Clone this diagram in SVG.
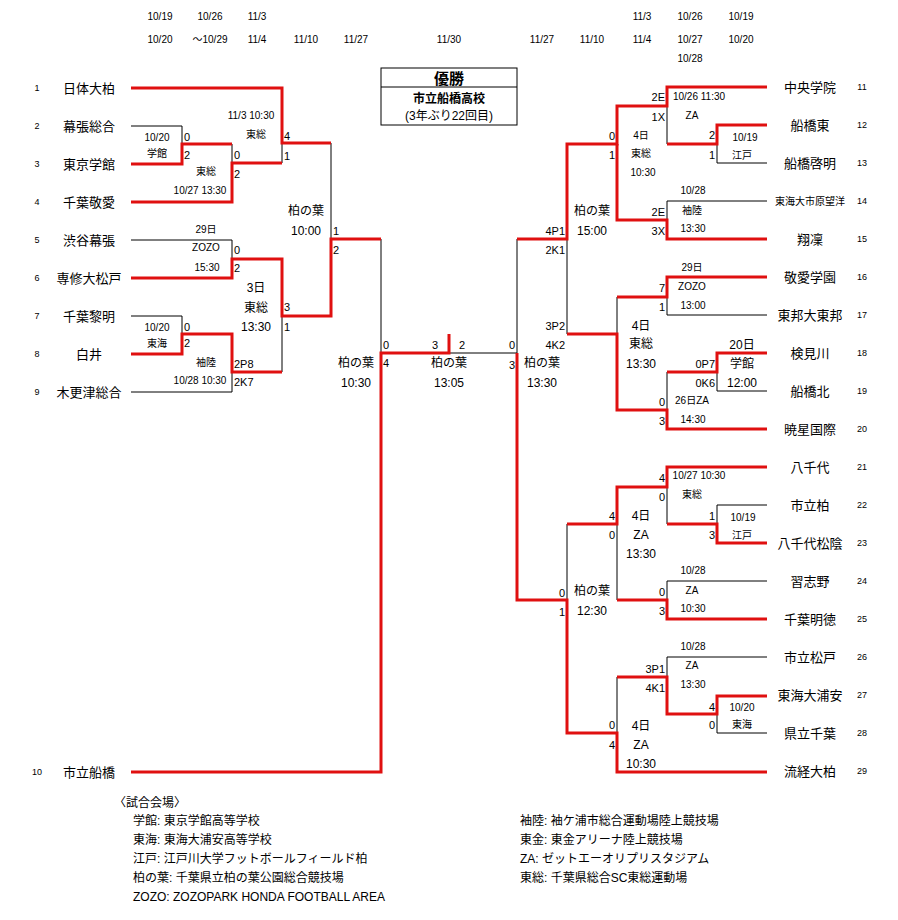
<svg xmlns="http://www.w3.org/2000/svg" width="898" height="920" viewBox="0 0 898 920">
<style>
text{font-family:"Liberation Sans","Noto Sans CJK JP",sans-serif;fill:#000}
.t{font-size:13px;text-anchor:middle}
.n{font-size:9px;text-anchor:middle}
.s{font-size:11px}
.c{font-size:10px;text-anchor:middle}
.m{font-size:12px;text-anchor:middle}
.e{text-anchor:end}
.k{fill:none;stroke:#000;stroke-width:1}
.r{fill:none;stroke:#e01010;stroke-width:3}
</style>
<rect width="898" height="920" fill="#fff"/>
<g id="dates" class="c">
<text x="160" y="20">10/19</text><text x="210" y="20">10/26</text><text x="257" y="20">11/3</text>
<text x="642" y="20">11/3</text><text x="690" y="20">10/26</text><text x="741" y="20">10/19</text>
<text x="160" y="43">10/20</text><text x="210" y="43">～10/29</text><text x="257" y="43">11/4</text><text x="306" y="43">11/10</text><text x="356" y="43">11/27</text><text x="449" y="43">11/30</text><text x="542" y="43">11/27</text><text x="592" y="43">11/10</text><text x="642" y="43">11/4</text><text x="690" y="43">10/27</text><text x="741" y="43">10/20</text>
<text x="690" y="62">10/28</text>
</g>
<g id="champion">
<rect x="381" y="68" width="136" height="57" fill="none" stroke="#000"/>
<line x1="381" y1="87" x2="517" y2="87" stroke="#000"/>
<text x="449" y="84" class="t" style="font-size:15px;font-weight:bold">優勝</text>
<text x="449" y="103" class="m" style="font-weight:bold">市立船橋高校</text>
<text x="449" y="120" class="m">(3年ぶり22回目)</text>
</g>
<g id="connectors">
<polyline class="k" points="131,126 182,126 182,144"/>
<polyline class="k" points="232,144 232,163"/>
<polyline class="k" points="282,143 282,163"/>
<polyline class="k" points="331,143 331,239"/>
<polyline class="k" points="131,240 232,240 232,259"/>
<polyline class="k" points="282,316 282,372"/>
<polyline class="k" points="131,316 182,316 182,334"/>
<polyline class="k" points="131,392 232,392 232,372"/>
<polyline class="k" points="381,239 381,353"/>
<polyline class="k" points="449,353 517,353 517,239"/>
<polyline class="k" points="667,106 667,144"/>
<polyline class="k" points="767,163 717,163 717,144"/>
<polyline class="k" points="767,201 667,201 667,220"/>
<polyline class="k" points="567,239 567,334"/>
<polyline class="k" points="617,297 617,334"/>
<polyline class="k" points="667,297 667,315 767,315"/>
<polyline class="k" points="767,391 717,391 717,372"/>
<polyline class="k" points="667,372 667,410"/>
<polyline class="k" points="667,487 667,524"/>
<polyline class="k" points="767,505 717,505 717,524"/>
<polyline class="k" points="567,524 567,600"/>
<polyline class="k" points="617,524 617,600"/>
<polyline class="k" points="767,581 667,581 667,600"/>
<polyline class="k" points="767,657 667,657 667,677"/>
<polyline class="k" points="767,733 717,733 717,714"/>
<polyline class="k" points="617,677 617,733"/>
<polyline class="r" points="131,88 282,88 282,143 331,143"/>
<polyline class="r" points="131,164 182,164 182,144 232,144"/>
<polyline class="r" points="131,202 232,202 232,163 282,163"/>
<polyline class="r" points="131,278 232,278 232,259 282,259 282,316 331,316 331,239 381,239"/>
<polyline class="r" points="131,354 182,354 182,334 232,334 232,372 282,372"/>
<polyline class="r" points="131,772 381,772 381,353 449,353 449,334"/>
<polyline class="r" points="767,87 667,87 667,106 617,106 617,144 567,144 567,239 517,239"/>
<polyline class="r" points="767,125 717,125 717,144 667,144"/>
<polyline class="r" points="617,144 617,220 667,220 667,239 767,239"/>
<polyline class="r" points="767,277 667,277 667,297 617,297"/>
<polyline class="r" points="567,334 617,334 617,410 667,410 667,429 767,429"/>
<polyline class="r" points="767,353 717,353 717,372 667,372"/>
<polyline class="r" points="517,353 517,600 567,600 567,733 617,733 617,772 767,772"/>
<polyline class="r" points="767,467 667,467 667,487 617,487 617,524 567,524"/>
<polyline class="r" points="767,543 717,543 717,524 667,524"/>
<polyline class="r" points="617,600 667,600 667,619 767,619"/>
<polyline class="r" points="617,677 667,677 667,714 717,714 717,696 767,696"/>
</g>
<g id="left-teams">
<g class="n"><text x="37" y="91">1</text><text x="37" y="129">2</text><text x="37" y="167">3</text><text x="37" y="205">4</text><text x="37" y="243">5</text><text x="37" y="281">6</text><text x="37" y="319">7</text><text x="37" y="357">8</text><text x="37" y="395">9</text><text x="37" y="775">10</text></g>
<g class="t"><text x="89" y="93">日体大柏</text><text x="89" y="131">幕張総合</text><text x="89" y="169">東京学館</text><text x="89" y="207">千葉敬愛</text><text x="89" y="245">渋谷幕張</text><text x="89" y="283">専修大松戸</text><text x="89" y="321">千葉黎明</text><text x="89" y="359">白井</text><text x="89" y="397">木更津総合</text><text x="89" y="777">市立船橋</text></g>
</g>
<g id="right-teams">
<g class="t"><text x="810" y="92">中央学院</text><text x="810" y="130">船橋東</text><text x="810" y="168">船橋啓明</text><text x="810" y="205" style="font-size:10px">東海大市原望洋</text><text x="810" y="244">翔凜</text><text x="810" y="282">敬愛学園</text><text x="810" y="320">東邦大東邦</text><text x="810" y="358">検見川</text><text x="810" y="396">船橋北</text><text x="810" y="434">暁星国際</text><text x="810" y="472">八千代</text><text x="810" y="510">市立柏</text><text x="810" y="548">八千代松陰</text><text x="810" y="586">習志野</text><text x="810" y="624">千葉明徳</text><text x="810" y="662">市立松戸</text><text x="810" y="700">東海大浦安</text><text x="810" y="738">県立千葉</text><text x="810" y="776">流経大柏</text></g>
<g class="n"><text x="862" y="90">11</text><text x="862" y="128">12</text><text x="862" y="166">13</text><text x="862" y="204">14</text><text x="862" y="242">15</text><text x="862" y="280">16</text><text x="862" y="318">17</text><text x="862" y="356">18</text><text x="862" y="394">19</text><text x="862" y="432">20</text><text x="862" y="470">21</text><text x="862" y="508">22</text><text x="862" y="546">23</text><text x="862" y="584">24</text><text x="862" y="622">25</text><text x="862" y="660">26</text><text x="862" y="698">27</text><text x="862" y="736">28</text><text x="862" y="774">29</text></g>
</g>
<g id="scores" class="s">
<text x="184" y="141">0</text><text x="184" y="159">2</text><text x="234" y="159">0</text><text x="234" y="178">2</text><text x="284" y="140">4</text><text x="284" y="160">1</text><text x="333" y="235">1</text><text x="333" y="254">2</text><text x="234" y="254">0</text><text x="234" y="272">2</text><text x="284" y="311">3</text><text x="284" y="331">1</text><text x="184" y="331">0</text><text x="184" y="347">2</text><text x="234" y="368">2P8</text><text x="234" y="386">2K7</text><text x="383" y="349">0</text><text x="383" y="367">4</text>
<text x="435" y="349" text-anchor="middle">3</text><text x="462" y="349" text-anchor="middle">2</text>
<g class="e"><text x="515" y="349">0</text><text x="515" y="369">3</text>
<text x="665" y="101">2E</text><text x="665" y="121">1X</text><text x="615" y="140">0</text><text x="615" y="159">1</text><text x="715" y="139">2</text><text x="715" y="159">1</text><text x="665" y="216">2E</text><text x="665" y="235">3X</text><text x="565" y="235">4P1</text><text x="565" y="254">2K1</text><text x="665" y="292">7</text><text x="665" y="311">1</text><text x="565" y="330">3P2</text><text x="565" y="349">4K2</text><text x="715" y="368">0P7</text><text x="715" y="387">0K6</text><text x="665" y="406">0</text><text x="665" y="425">3</text>
<text x="665" y="482">4</text><text x="665" y="501">0</text><text x="615" y="520">4</text><text x="615" y="539">0</text><text x="715" y="520">1</text><text x="715" y="539">3</text><text x="565" y="597">0</text><text x="565" y="616">1</text><text x="665" y="596">0</text><text x="665" y="615">3</text><text x="665" y="673">3P1</text><text x="665" y="692">4K1</text><text x="715" y="711">4</text><text x="715" y="729">0</text><text x="615" y="729">0</text><text x="615" y="749">4</text></g>
</g>
<g id="venues" class="c">
<text x="157" y="141">10/20</text><text x="157" y="157">学館</text><text x="206" y="175">東総</text><text x="200" y="194">10/27 13:30</text><text x="251" y="119">11/3 10:30</text><text x="256" y="138">東総</text>
<text x="206" y="233">29日</text><text x="206" y="251">ZOZO</text><text x="207" y="271">15:30</text>
<text x="157" y="331">10/20</text><text x="157" y="347">東海</text><text x="206" y="366">袖陸</text><text x="200" y="384">10/28 10:30</text>
<g class="m"><text x="306" y="215">柏の葉</text><text x="306" y="235">10:00</text><text x="256" y="292">3日</text><text x="256" y="312">東総</text><text x="256" y="331">13:30</text><text x="356" y="367">柏の葉</text><text x="356" y="387">10:30</text><text x="449" y="367">柏の葉</text><text x="449" y="387">13:05</text><text x="542" y="367">柏の葉</text><text x="542" y="387">13:30</text>
<text x="592" y="215">柏の葉</text><text x="592" y="235">15:00</text><text x="641" y="330">4日</text><text x="641" y="348">東総</text><text x="641" y="368">13:30</text><text x="742" y="349">20日</text><text x="742" y="368">学館</text><text x="742" y="387">12:00</text>
<text x="641" y="520">4日</text><text x="641" y="539">ZA</text><text x="641" y="558">13:30</text><text x="592" y="595">柏の葉</text><text x="592" y="615">12:30</text><text x="641" y="730">4日</text><text x="641" y="749">ZA</text><text x="641" y="768">10:30</text></g>
<text x="699" y="100">10/26 11:30</text><text x="692" y="119">ZA</text><text x="745" y="141">10/19</text><text x="742" y="159">江戸</text><text x="641" y="139">4日</text><text x="641" y="157">東総</text><text x="643" y="176">10:30</text>
<text x="693" y="194">10/28</text><text x="692" y="214">袖陸</text><text x="693" y="232">13:30</text>
<text x="692" y="271">29日</text><text x="692" y="290">ZOZO</text><text x="693" y="309">13:00</text><text x="692" y="404">26日ZA</text><text x="693" y="423">14:30</text>
<text x="699" y="479">10/27 10:30</text><text x="692" y="498">東総</text><text x="743" y="521">10/19</text><text x="742" y="539">江戸</text>
<text x="693" y="574">10/28</text><text x="692" y="594">ZA</text><text x="693" y="612">10:30</text>
<text x="693" y="650">10/28</text><text x="692" y="669">ZA</text><text x="693" y="688">13:30</text><text x="742" y="711">10/20</text><text x="742" y="728">東海</text>
</g>
<g id="legend" style="font-size:12px">
<text x="114" y="807">〈試合会場〉</text>
<text x="133" y="825">学館: 東京学館高等学校</text>
<text x="133" y="844">東海: 東海大浦安高等学校</text>
<text x="133" y="863">江戸: 江戸川大学フットボールフィールド柏</text>
<text x="133" y="882">柏の葉: 千葉県立柏の葉公園総合競技場</text>
<text x="133" y="901">ZOZO: ZOZOPARK HONDA FOOTBALL AREA</text>
<text x="520" y="825">袖陸: 袖ケ浦市総合運動場陸上競技場</text>
<text x="520" y="844">東金: 東金アリーナ陸上競技場</text>
<text x="520" y="863">ZA: ゼットエーオリプリスタジアム</text>
<text x="520" y="882">東総: 千葉県総合SC東総運動場</text>
</g>
</svg>
